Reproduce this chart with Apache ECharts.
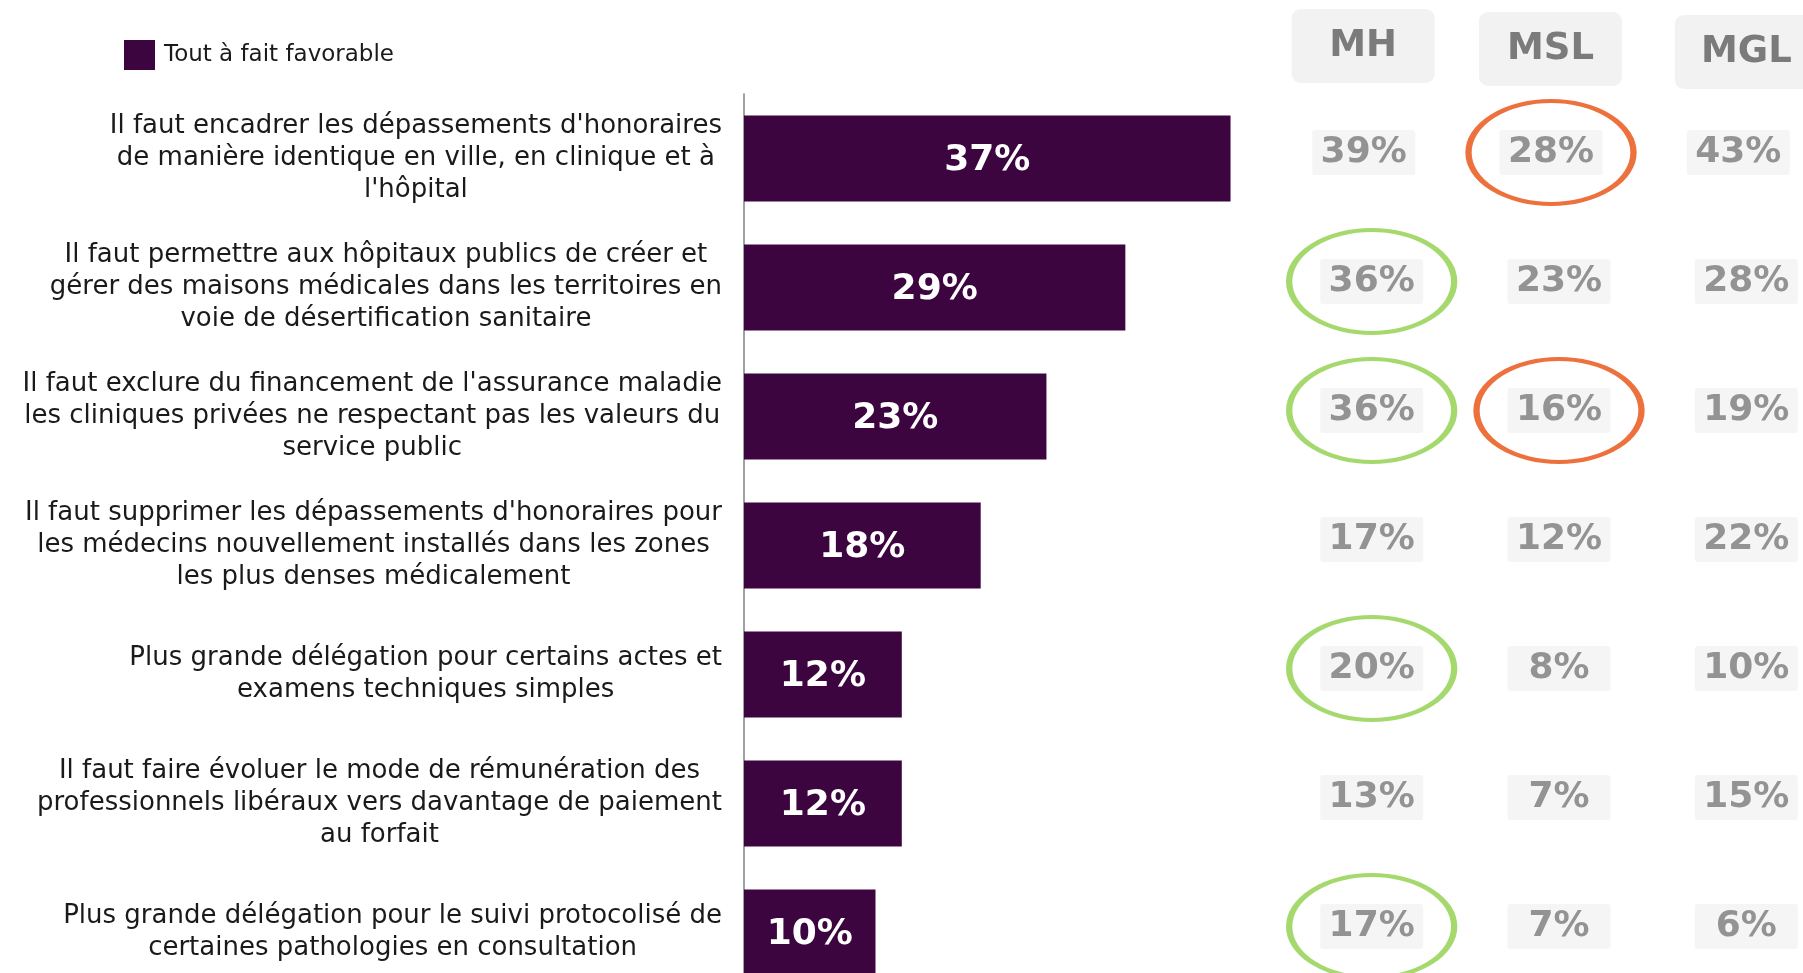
<!DOCTYPE html>
<html>
<head>
<meta charset="utf-8">
<script src="https://cdn.jsdelivr.net/npm/echarts@6/dist/echarts.min.js"></script>
<style>
  html, body { margin: 0; padding: 0; background: #fff; }
  #chart { width: 1803px; height: 973px; }
</style>
</head>
<body>
<div id="chart"></div>
<script>
const categories = [
  "Il faut encadrer les dépassements d'honoraires\nde manière identique en ville, en clinique et à\nl'hôpital",
  "Il faut permettre aux hôpitaux publics de créer et\ngérer des maisons médicales dans les territoires en\nvoie de désertification sanitaire",
  "Il faut exclure du financement de l'assurance maladie\nles cliniques privées ne respectant pas les valeurs du\nservice public",
  "Il faut supprimer les dépassements d'honoraires pour\nles médecins nouvellement installés dans les zones\nles plus denses médicalement",
  "Plus grande délégation pour certains actes et\nexamens techniques simples",
  "Il faut faire évoluer le mode de rémunération des\nprofessionnels libéraux vers davantage de paiement\nau forfait",
  "Plus grande délégation pour le suivi protocolisé de\ncertaines pathologies en consultation"
]
const seriesName = 'Tout à fait favorable'
const favorable = [37, 29, 23, 18, 12, 12, 10]

const groups = ['MH', 'MSL', 'MGL']
const mh = [39, 36, 36, 17, 20, 13, 17]
const msl = [28, 23, 16, 12, 8, 7, 7]
const mgl = [43, 28, 19, 22, 10, 15, 6]

// highlighted cells [groupIndex, rowIndex]
const greenCells = [[0, 1], [0, 2], [0, 4], [0, 6]]
const orangeCells = [[1, 0], [1, 2]]

const font = 'DejaVu Sans'
const chart = echarts.init(document.getElementById('chart'))

// first row of the table sits a bit more to the left
function rowOffset(row) {
  return row === 0 ? [-8, -6] : [0, -6]
}

// header boxes are slightly staggered
const headerPadding = [[0, 17, 6, 0], [0, 17, 3, 0], [0, 0, 0, 0]]

const cells = []
;[mh, msl, mgl].forEach((arr, g) => {
  arr.forEach((v, r) => {
    cells.push({ value: [g, r, v], label: { offset: rowOffset(r) } })
  })
})

function rings(list) {
  return list.map(([g, r]) => ({ value: [g, r], symbolOffset: rowOffset(r) }))
}

const option = {
  animation: false,
  textStyle: { fontFamily: font },
  legend: {
    left: 124,
    top: 40,
    padding: 0,
    icon: 'rect',
    itemWidth: 31,
    itemHeight: 30,
    itemGap: 10,
    textStyle: { fontFamily: font, fontSize: 23, color: '#1a1a1a', padding: [0, 0, 0, 4] },
    data: [seriesName]
  },
  grid: [
    { left: 744, top: 94, width: 789, height: 903, outerBoundsMode: 'none', containLabel: false },
    { left: 1278, top: 94, width: 562, height: 903, outerBoundsMode: 'none', containLabel: false }
  ],
  xAxis: [
    { gridIndex: 0, type: 'value', min: 0, max: 60, show: false },
    {
      gridIndex: 1,
      type: 'category',
      position: 'top',
      data: groups.map((g, i) => ({ value: g, textStyle: { padding: headerPadding[i] } })),
      axisLine: { show: false },
      axisTick: { show: false },
      splitLine: { show: false },
      axisLabel: {
        margin: 5,
        formatter: v => '{h|' + v + '}',
        rich: {
          h: {
            width: 143,
            height: 74,
            lineHeight: 74,
            align: 'center',
            backgroundColor: '#f2f2f2',
            borderRadius: 9,
            color: '#7b7b7b',
            fontFamily: font,
            fontWeight: 'bold',
            fontSize: 37
          }
        }
      }
    }
  ],
  yAxis: [
    {
      gridIndex: 0,
      type: 'category',
      inverse: true,
      data: categories,
      axisLine: { lineStyle: { color: '#808080', width: 1.5 } },
      axisTick: { show: false },
      axisLabel: {
        interval: 0,
        margin: 22,
        formatter: v => v.split('\n').map(l => '{c|' + l + '}').join('\n'),
        rich: {
          c: {
            align: 'center',
            fontFamily: font,
            fontSize: 26,
            lineHeight: 32,
            color: '#1a1a1a'
          }
        }
      }
    },
    {
      gridIndex: 1,
      type: 'category',
      inverse: true,
      data: categories,
      show: false
    }
  ],
  series: [
    {
      name: seriesName,
      type: 'bar',
      xAxisIndex: 0,
      yAxisIndex: 0,
      barWidth: 86,
      data: favorable,
      itemStyle: { color: '#3d0540' },
      label: {
        show: true,
        position: 'inside',
        offset: [0, 2],
        formatter: '{c}%',
        color: '#ffffff',
        fontFamily: font,
        fontWeight: 'bold',
        fontSize: 36
      }
    },
    {
      type: 'scatter',
      xAxisIndex: 1,
      yAxisIndex: 1,
      symbolSize: 1,
      itemStyle: { color: 'rgba(0,0,0,0)' },
      data: cells,
      label: {
        show: true,
        position: 'inside',
        formatter: p => '{v|' + p.value[2] + '%}',
        rich: {
          v: {
            width: 103,
            height: 45,
            lineHeight: 45,
            align: 'center',
            backgroundColor: '#f2f2f2',
            borderRadius: 3,
            color: '#7b7b7b',
            fontFamily: font,
            fontWeight: 'bold',
            fontSize: 36
          }
        }
      }
    },
    {
      type: 'scatter',
      xAxisIndex: 1,
      yAxisIndex: 1,
      symbol: 'circle',
      symbolSize: [165, 103],
      itemStyle: { color: 'rgba(0,0,0,0)', borderColor: '#8fcf4a', borderWidth: 5 },
      data: rings(greenCells),
      z: 5
    },
    {
      type: 'scatter',
      xAxisIndex: 1,
      yAxisIndex: 1,
      symbol: 'circle',
      symbolSize: [165, 103],
      itemStyle: { color: 'rgba(0,0,0,0)', borderColor: '#e84e0c', borderWidth: 5 },
      data: rings(orangeCells),
      z: 5
    }
  ]
}

chart.setOption(option)
</script>
</body>
</html>
